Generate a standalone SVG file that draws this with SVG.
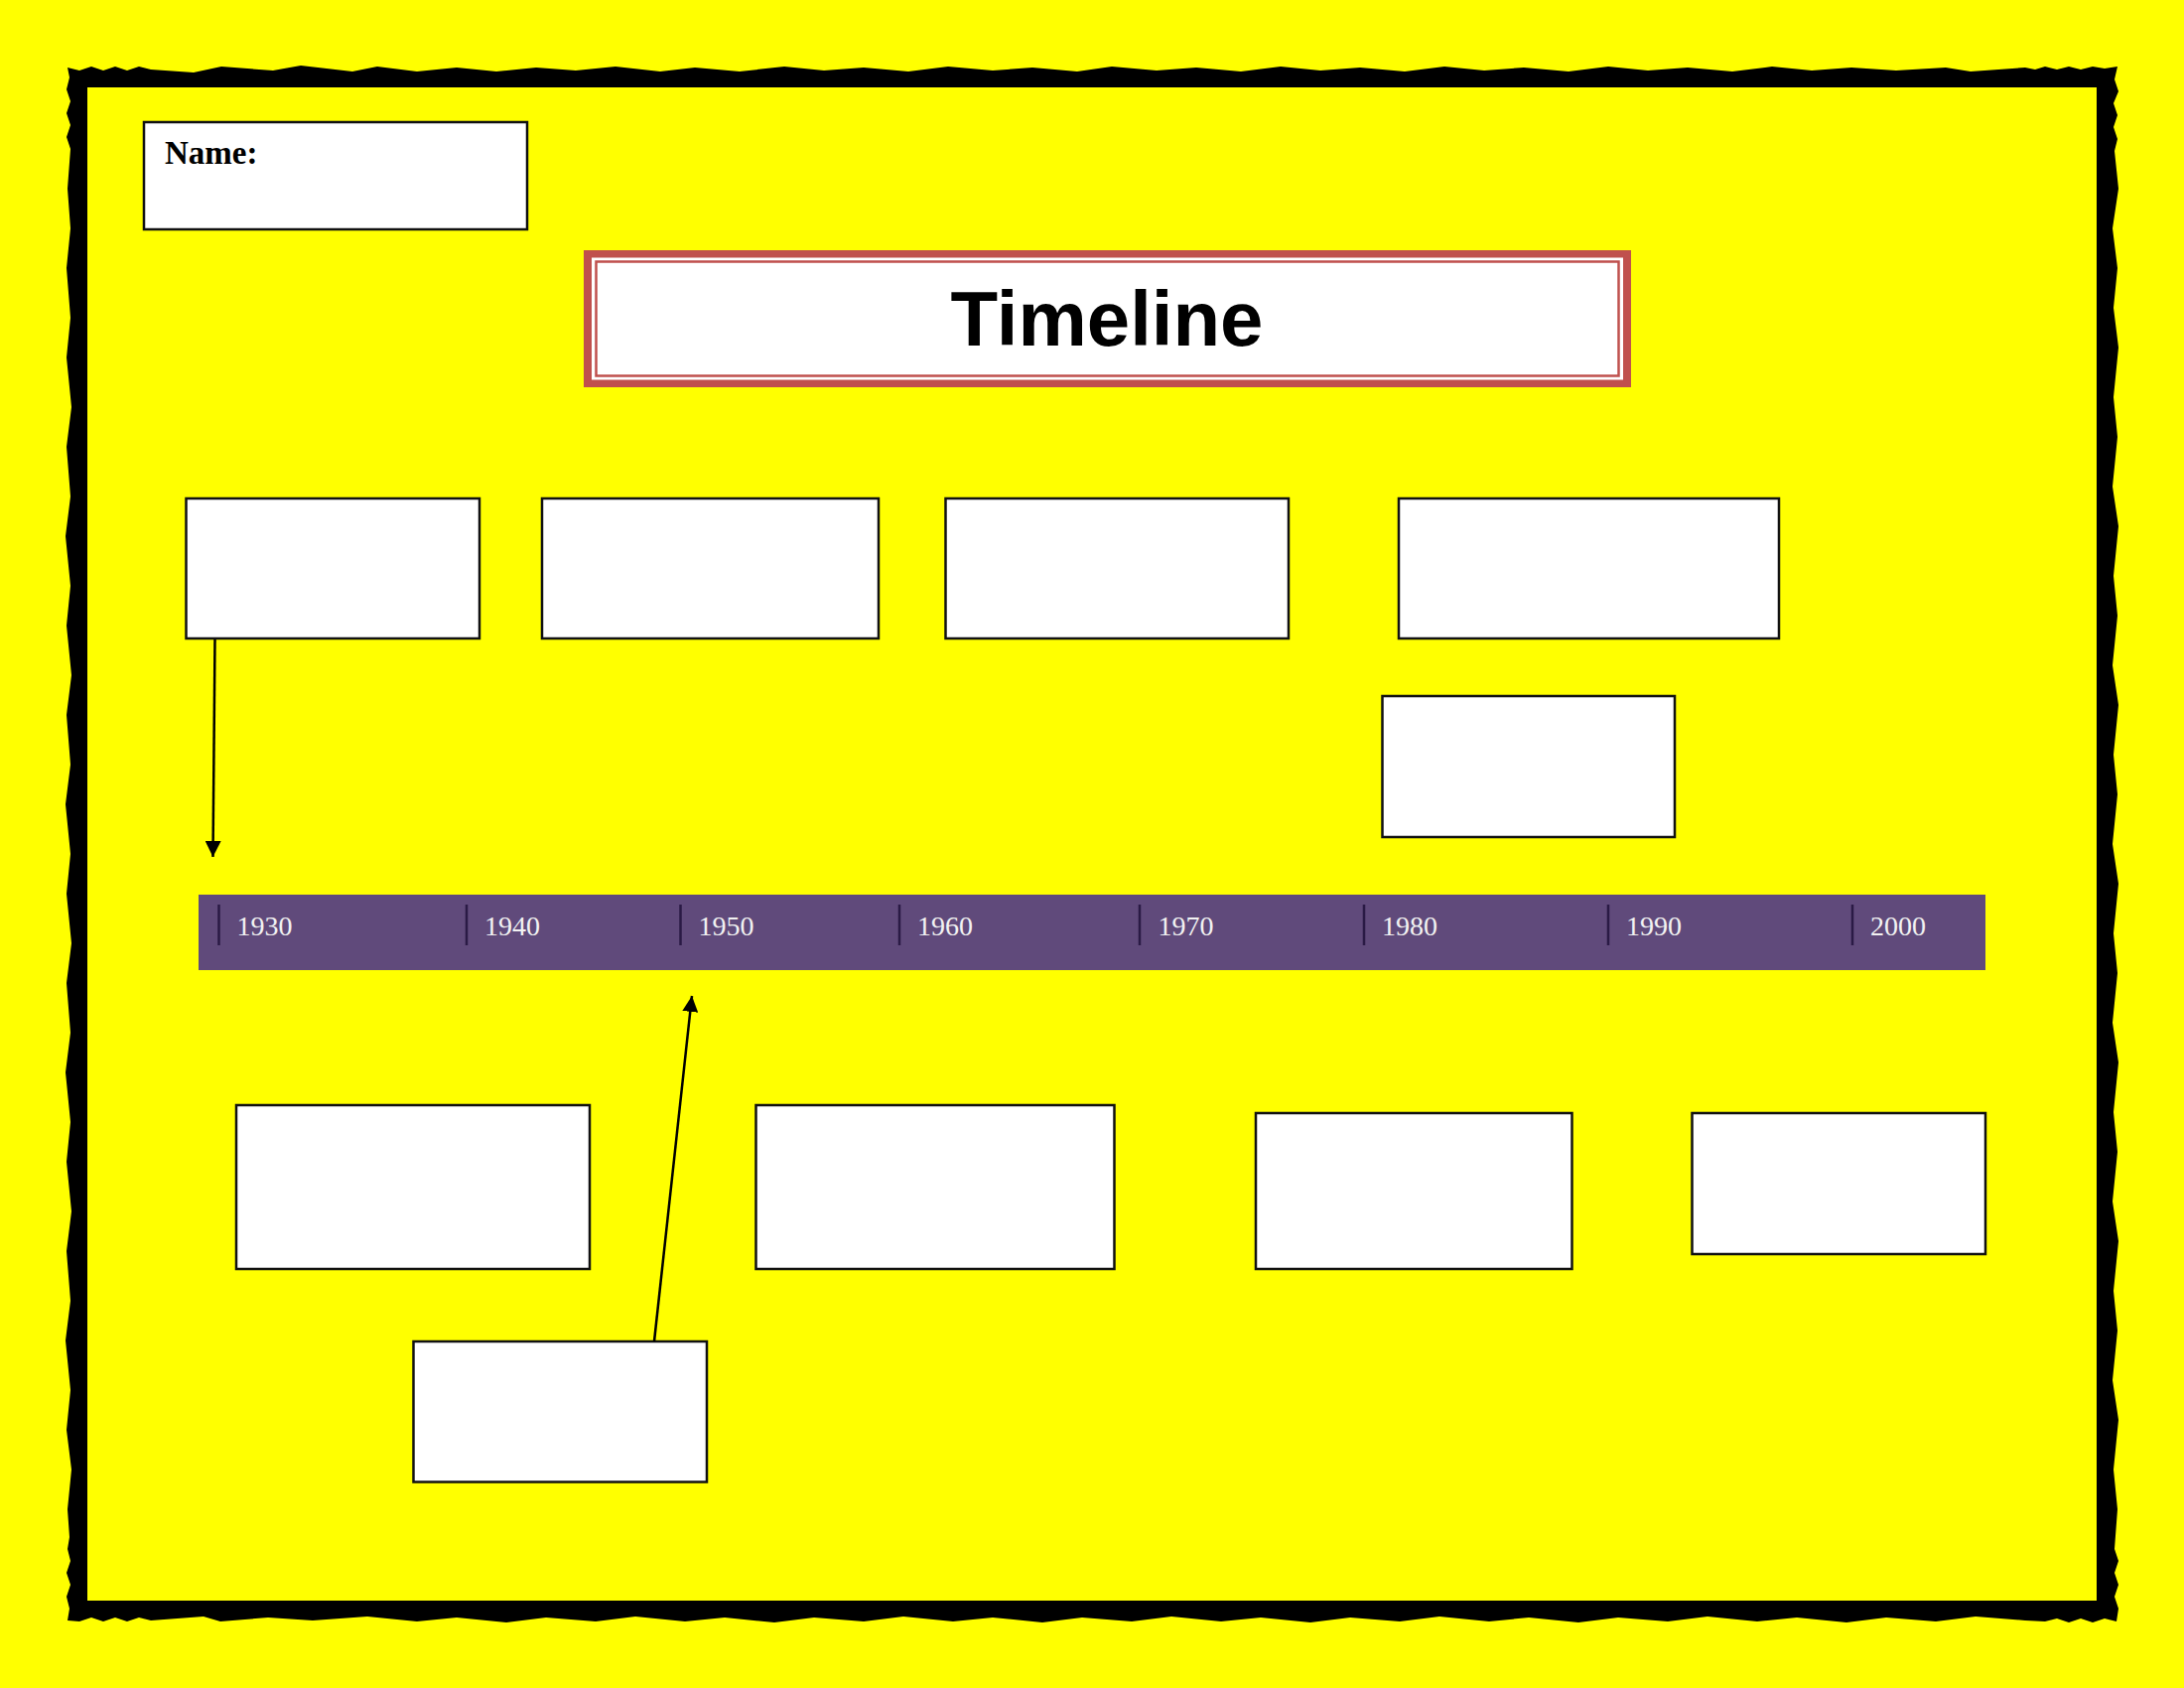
<svg xmlns="http://www.w3.org/2000/svg" width="2200" height="1700" viewBox="0 0 2200 1700">
<defs>
<style>
.box{fill:#ffffff;stroke:#111111;stroke-width:2.5}
.tick{stroke:#2a1a45;stroke-width:2.5}
.yr{font-family:"Liberation Serif","Times New Roman",serif;font-size:28px;fill:#f2f2f2}
.conn{stroke:#000000;stroke-width:2.5;fill:none}
</style>
<marker id="ah" viewBox="0 0 10 10" refX="10" refY="5" markerWidth="16" markerHeight="16" markerUnits="userSpaceOnUse" orient="auto">
<path d="M0,0 L10,5 L0,10 Z" fill="#000000"/>
</marker>
</defs>
<rect x="0" y="0" width="2200" height="1700" fill="#ffff00"/>
<g id="border">
<path fill="#000000" fill-rule="evenodd" d="M68,68 L80,71 L92,67 L104,71 L116,67 L128,71 L140,67 L152,70 L195,73 L223,67 L275,71 L303,66 L355,72 L380,67 L420,72 L460,68 L500,72 L540,68 L580,71 L620,67 L665,72 L700,68 L745,72 L790,67 L830,71 L870,68 L915,72 L955,67 L1000,71 L1040,68 L1085,72 L1120,67 L1165,71 L1205,68 L1250,72 L1290,67 L1330,71 L1370,68 L1415,72 L1455,67 L1495,71 L1535,68 L1580,72 L1620,67 L1660,71 L1700,68 L1745,72 L1785,67 L1825,71 L1865,68 L1910,71 L1960,68 L1985,72 L2040,68 L2050,70 L2060,67 L2072,70 L2084,67 L2096,70 L2108,67 L2120,69 L2133,67
L2130,80 L2134,92 L2129,104 L2133,116 L2129,128 L2133,140 L2130,152 L2134,190 L2128,230 L2133,270 L2129,310 L2134,350 L2129,400 L2133,440 L2128,490 L2134,530 L2129,580 L2133,620 L2128,670 L2134,710 L2129,760 L2133,800 L2128,850 L2134,890 L2129,940 L2133,980 L2128,1030 L2134,1070 L2129,1120 L2133,1160 L2128,1210 L2134,1250 L2129,1300 L2133,1340 L2128,1390 L2134,1430 L2129,1480 L2133,1520 L2130,1560 L2134,1572 L2130,1584 L2134,1596 L2130,1608 L2134,1620 L2132,1633
L2120,1630 L2108,1634 L2096,1630 L2084,1634 L2072,1630 L2060,1633 L2040,1632 L1990,1628 L1950,1633 L1900,1629 L1860,1634 L1810,1629 L1770,1633 L1720,1628 L1680,1633 L1630,1629 L1590,1634 L1540,1629 L1500,1633 L1450,1628 L1410,1633 L1360,1629 L1320,1634 L1270,1629 L1230,1633 L1180,1628 L1140,1633 L1090,1629 L1050,1634 L1000,1629 L960,1633 L910,1628 L870,1633 L820,1629 L780,1634 L730,1629 L690,1633 L640,1628 L600,1633 L550,1629 L510,1634 L460,1629 L420,1633 L370,1628 L315,1632 L270,1629 L222,1633 L205,1628 L152,1632 L140,1629 L128,1633 L116,1629 L104,1633 L92,1629 L80,1633 L68,1632
L70,1620 L67,1608 L71,1596 L67,1584 L71,1572 L68,1560 L70,1548 L68,1520 L72,1480 L67,1440 L71,1400 L66,1350 L71,1310 L67,1260 L72,1220 L67,1170 L71,1130 L66,1080 L71,1040 L67,990 L72,950 L67,900 L71,860 L66,810 L71,770 L67,720 L72,680 L67,630 L71,590 L66,540 L71,500 L67,450 L72,410 L67,360 L71,320 L67,270 L71,230 L68,190 L71,150 L67,138 L71,126 L67,114 L71,102 L67,90 L70,78 Z
M88,88 L2112,88 L2112,1612 L88,1612 Z"/>
</g>
<g id="name-box">
<rect class="box" x="145" y="123" width="386" height="108"/>
<text x="166" y="165" font-family="Liberation Serif,'Times New Roman',serif" font-weight="bold" font-size="33" fill="#000000">Name:</text>
</g>
<g id="title">
<rect x="588" y="252" width="1055" height="138" fill="#c0504d"/>
<rect x="596" y="259.5" width="1039" height="123" fill="#ffffff"/>
<rect x="600.5" y="263.5" width="1030" height="115" fill="none" stroke="#c0504d" stroke-width="2.5"/>
<text x="1115" y="348" text-anchor="middle" font-family="Liberation Sans,Arial,sans-serif" font-weight="bold" font-size="78" fill="#000000">Timeline</text>
</g>
<g id="timeline-bar">
<rect x="200" y="901" width="1800" height="76" fill="#604a7b"/>
<line class="tick" x1="220.5" y1="911" x2="220.5" y2="952"/>
<line class="tick" x1="470" y1="911" x2="470" y2="952"/>
<line class="tick" x1="685.5" y1="911" x2="685.5" y2="952"/>
<line class="tick" x1="906" y1="911" x2="906" y2="952"/>
<line class="tick" x1="1148" y1="911" x2="1148" y2="952"/>
<line class="tick" x1="1374" y1="911" x2="1374" y2="952"/>
<line class="tick" x1="1620" y1="911" x2="1620" y2="952"/>
<line class="tick" x1="1866" y1="911" x2="1866" y2="952"/>
<text class="yr" x="238.5" y="942">1930</text>
<text class="yr" x="488" y="942">1940</text>
<text class="yr" x="703.5" y="942">1950</text>
<text class="yr" x="924" y="942">1960</text>
<text class="yr" x="1166.5" y="942">1970</text>
<text class="yr" x="1392" y="942">1980</text>
<text class="yr" x="1638" y="942">1990</text>
<text class="yr" x="1884" y="942">2000</text>
</g>
<g id="box-top-1"><rect class="box" x="187.5" y="502" width="295.5" height="141"/></g>
<g id="box-top-2"><rect class="box" x="546" y="502" width="339" height="141"/></g>
<g id="box-top-3"><rect class="box" x="952.5" y="502" width="345.5" height="141"/></g>
<g id="box-top-4"><rect class="box" x="1409" y="502" width="383" height="141"/></g>
<g id="box-top-5"><rect class="box" x="1392.5" y="701" width="294.5" height="142"/></g>
<g id="box-bottom-1"><rect class="box" x="238" y="1113" width="356" height="165"/></g>
<g id="box-bottom-2"><rect class="box" x="761.5" y="1113" width="361" height="165"/></g>
<g id="box-bottom-3"><rect class="box" x="1265" y="1121" width="318.5" height="157"/></g>
<g id="box-bottom-4"><rect class="box" x="1704.5" y="1121" width="295.5" height="142"/></g>
<g id="box-bottom-5"><rect class="box" x="416.5" y="1351" width="295.5" height="141.5"/></g>
<g id="connectors">
<line class="conn" x1="216.5" y1="644" x2="214.5" y2="863" marker-end="url(#ah)"/>
<line class="conn" x1="659" y1="1351" x2="697" y2="1003" marker-end="url(#ah)"/>
</g>
</svg>
